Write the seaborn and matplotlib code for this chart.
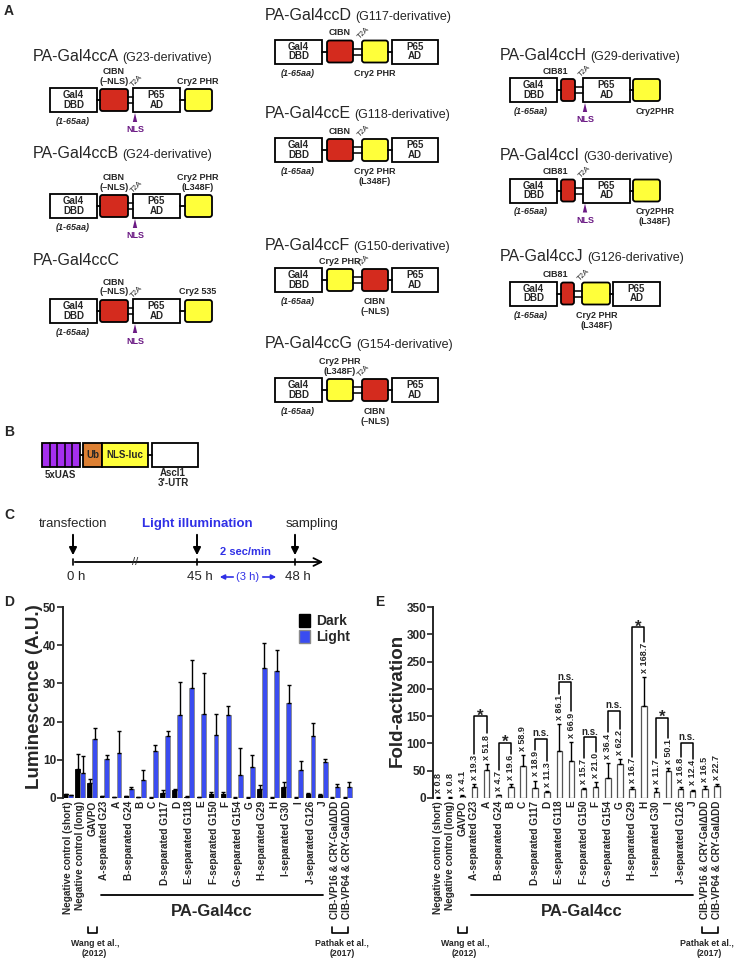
import numpy as np
import pandas as pd
import matplotlib
matplotlib.use('Agg')
import matplotlib.pyplot as plt
import matplotlib.patches as mpatches
import matplotlib.transforms as mtransforms
import seaborn as sns

# ---- data ----
constructs = ['Negative control (short)', 'Negative control (long)', 'GAVPO',
              'A-separated G23', 'A', 'B-separated G24', 'B', 'C',
              'D-separated G117', 'D', 'E-separated G118', 'E',
              'F-separated G150', 'F', 'G-separated G154', 'G',
              'H-separated G29', 'H', 'I-separated G30', 'I',
              'J-separated G126', 'J',
              'CIB-VP16 & CRY-GalΔDD', 'CIB-VP64 & CRY-GalΔDD']
dark_mean = [1.0, 7.6, 3.9, 0.4, 0.2, 0.4, 0.2, 0.1, 1.3, 2.0, 0.3, 0.2,
             1.1, 1.1, 0.1, 0.1, 2.3, 0.1, 2.9, 0.1, 1.0, 0.8, 0.1, 0.1]
dark_err = [0.1, 4.0, 1.1, 0.1, 0.1, 0.1, 0.1, 0.05, 0.7, 0.3, 0.1, 0.1,
            0.4, 0.4, 0.05, 0.05, 1.2, 0.05, 1.4, 0.05, 0.3, 0.2, 0.05, 0.05]
light_mean = [0.8, 6.6, 15.4, 10.2, 11.8, 2.4, 4.6, 12.3, 16.1, 21.8, 28.7, 22.1,
              16.4, 21.6, 6.1, 8.2, 34.0, 33.3, 25.0, 7.3, 16.2, 9.3, 3.0, 2.9]
light_err = [0.1, 4.4, 2.8, 1.0, 5.7, 0.4, 2.8, 1.6, 1.4, 8.5, 7.5, 10.5,
             5.6, 2.5, 7.0, 3.0, 6.5, 5.5, 4.7, 2.5, 3.5, 0.9, 0.6, 1.3]
fold = [0.8, 0.8, 4.1, 19.3, 51.8, 4.7, 19.6, 58.9, 18.9, 11.3, 86.1, 66.9,
        15.7, 21.0, 36.4, 62.2, 16.7, 168.7, 11.7, 50.1, 16.8, 12.4, 16.5, 22.7]
fold_err = [0.5, 0.5, 1.5, 6, 11, 1, 6, 19, 13, 2, 49, 36,
            3, 8, 28, 9, 3, 53, 6, 5, 3, 3, 5, 3]
sig_pairs = [(3, 4), (5, 6), (8, 9), (10, 11), (12, 13), (14, 15), (16, 17), (18, 19), (20, 21)]
sig_y = [150, 101, 108, 212, 111, 160, 313, 147, 101]
sig_marks = ['*', '*', 'n.s.', 'n.s.', 'n.s.', 'n.s.', '*', '*', 'n.s.']

BLUE = '#3a4cf0'
RED = '#d42b1e'
YELLOW = '#ffff3a'
NLS_PURPLE = '#6b1a84'
TXT_BLUE = '#3030e6'

sns.set_style('ticks')
plt.rcParams['font.family'] = ['Liberation Sans', 'DejaVu Sans']

fig = plt.figure(figsize=(7.36, 9.6), dpi=100)
# overlay in pixel units for the schematic panels
ov = fig.add_axes([0, 0, 1, 1])
ov.set_xlim(0, 736)
ov.set_ylim(960, 0)
ov.axis('off')

LW = 1.3


def white_box(x0, x1, yc, text):
    ov.add_patch(mpatches.Rectangle((x0, yc - 12), x1 - x0, 24, fc='white', ec='black', lw=LW))
    ov.text((x0 + x1) / 2, yc, text, ha='center', va='center', fontsize=7,
            fontweight='bold', linespacing=0.95)


def color_box(x0, x1, yc, fc):
    ov.add_patch(mpatches.FancyBboxPatch((x0 + 2.5, yc - 8.5), x1 - x0 - 5, 17,
                                         boxstyle='round,pad=2.5', fc=fc, ec='black', lw=LW))


def link(x0, x1, yc):
    ov.plot([x0, x1], [yc, yc], color='black', lw=LW)


def t2a(x0, x1, yc):
    ov.plot([x0, x1], [yc - 3, yc - 3], color='black', lw=1.1)
    ov.plot([x0, x1], [yc + 3, yc + 3], color='black', lw=1.1)
    ov.text((x0 + x1) / 2 + 6, yc - 19, 'T2A', rotation=45, ha='center', va='center', fontsize=5.5)


def nls(x, yc):
    b = yc + 12
    ov.add_patch(mpatches.Polygon([(x - 2.2, b + 10), (x + 2.2, b + 10), (x, b + 1)],
                                  fc=NLS_PURPLE, ec='none'))
    ov.text(x, b + 18, 'NLS', ha='center', va='center', fontsize=6.5,
            fontweight='bold', color=NLS_PURPLE)


def above(x, yc, lines):
    for k, s in enumerate(reversed(lines)):
        ov.text(x, yc - 12 - 7 - 9.5 * k, s, ha='center', va='center', fontsize=6.5, fontweight='bold')


def below(x, yc, lines, style='normal'):
    for k, s in enumerate(lines):
        ov.text(x, yc + 12 + 9.5 + 10 * k, s, ha='center', va='center', fontsize=6.5,
                fontweight='bold', style=style)


def title(x, y, main, sub=None):
    t = ov.text(x, y, main, fontsize=11.5, ha='left', va='baseline')
    if sub:
        ov.annotate(sub, xy=(1, 0), xycoords=t, xytext=(2.5, 0), textcoords='offset points',
                    fontsize=9, ha='left', va='bottom')


# ---- panel A, left column ----
for yt, yc, name, sub, yel in [(61, 100, 'PA-Gal4ccA', '(G23-derivative)', ['Cry2 PHR']),
                               (158, 206, 'PA-Gal4ccB', '(G24-derivative)', ['Cry2 PHR', '(L348F)']),
                               (265, 311, 'PA-Gal4ccC', None, ['Cry2 535'])]:
    title(33, yt, name, sub)
    white_box(50, 97, yc, 'Gal4\nDBD')
    link(97, 100, yc)
    color_box(100, 128, yc, RED)
    t2a(128, 133, yc)
    white_box(133, 180, yc, 'P65\nAD')
    link(180, 185, yc)
    color_box(185, 212, yc, YELLOW)
    above(114, yc, ['CIBN', '(–NLS)'])
    above(198, yc, yel)
    below(73, yc, ['(1-65aa)'], style='italic')
    nls(135, yc)

# ---- panel A, middle column ----
for yt, yc, name, sub, order in [(20, 51.5, 'PA-Gal4ccD', '(G117-derivative)', 'D'),
                                 (118, 150, 'PA-Gal4ccE', '(G118-derivative)', 'E'),
                                 (250, 280, 'PA-Gal4ccF', '(G150-derivative)', 'F'),
                                 (348, 390, 'PA-Gal4ccG', '(G154-derivative)', 'G')]:
    title(265, yt, name, sub)
    white_box(275, 322, yc, 'Gal4\nDBD')
    link(322, 327, yc)
    first, second = (RED, YELLOW) if order in 'DE' else (YELLOW, RED)
    color_box(327, 353, yc, first)
    t2a(353, 362, yc)
    color_box(362, 388, yc, second)
    link(388, 392, yc)
    white_box(392, 438, yc, 'P65\nAD')
    below(298, yc, ['(1-65aa)'], style='italic')
    if order == 'D':
        above(340, yc, ['CIBN'])
        below(375, yc, ['Cry2 PHR'])
    elif order == 'E':
        above(340, yc, ['CIBN'])
        below(375, yc, ['Cry2 PHR', '(L348F)'])
    elif order == 'F':
        above(340, yc, ['Cry2 PHR'])
        below(375, yc, ['CIBN', '(–NLS)'])
    else:
        above(340, yc, ['Cry2 PHR', '(L348F)'])
        below(375, yc, ['CIBN', '(–NLS)'])

# ---- panel A, right column ----
for yt, yc, name, sub, yel in [(60, 90, 'PA-Gal4ccH', '(G29-derivative)', ['Cry2PHR']),
                               (160, 190.5, 'PA-Gal4ccI', '(G30-derivative)', ['Cry2PHR', '(L348F)'])]:
    title(500, yt, name, sub)
    white_box(510, 557, yc, 'Gal4\nDBD')
    link(557, 561, yc)
    color_box(561, 575, yc, RED)
    t2a(575, 583, yc)
    white_box(583, 630, yc, 'P65\nAD')
    link(630, 633, yc)
    color_box(633, 660, yc, YELLOW)
    above(555, yc, ['CIB81'])
    below(531, yc, ['(1-65aa)'], style='italic')
    below(655, yc, yel)
    nls(585, yc)

title(500, 261, 'PA-Gal4ccJ', '(G126-derivative)')
yc = 293.5
white_box(510, 557, yc, 'Gal4\nDBD')
link(557, 561, yc)
color_box(561, 574, yc, RED)
t2a(574, 582, yc)
color_box(582, 610, yc, YELLOW)
link(610, 613, yc)
white_box(613, 660, yc, 'P65\nAD')
above(555, yc, ['CIB81'])
below(531, yc, ['(1-65aa)'], style='italic')
below(597, yc, ['Cry2 PHR', '(L348F)'])

# ---- panel B ----
ov.add_patch(mpatches.Rectangle((42, 443), 38, 24, fc='#a52ff0', ec='black', lw=LW))
for k in range(1, 5):
    ov.plot([42 + k * 7.6] * 2, [443, 467], color='black', lw=1.1)
link(80, 83, 455)
ov.add_patch(mpatches.Rectangle((83, 443), 19, 24, fc='#dd8033', ec='black', lw=LW))
ov.add_patch(mpatches.Rectangle((102, 443), 46, 24, fc=YELLOW, ec='black', lw=LW))
ov.text(92.5, 455, 'Ub', ha='center', va='center', fontsize=7, fontweight='bold')
ov.text(125, 455, 'NLS-luc', ha='center', va='center', fontsize=7, fontweight='bold')
link(148, 152, 455)
ov.add_patch(mpatches.Rectangle((152, 443), 46, 24, fc='white', ec='black', lw=LW))
ov.text(60, 475, '5xUAS', ha='center', va='center', fontsize=7, fontweight='bold')
ov.text(173, 473, 'Ascl1', ha='center', va='center', fontsize=7, fontweight='bold')
ov.text(173, 483, "3'-UTR", ha='center', va='center', fontsize=7, fontweight='bold')

# ---- panel C: timeline ----
ov.annotate('', xy=(326, 562), xytext=(72, 562),
            arrowprops=dict(arrowstyle='->', color='black', lw=1.3, mutation_scale=14))
for xt, lab in [(73, '0 h'), (197, '45 h'), (295, '48 h')]:
    ov.plot([xt, xt], [559, 565], color='black', lw=1.2)
    ov.annotate('', xy=(xt, 558), xytext=(xt, 532),
                arrowprops=dict(arrowstyle='-|>', color='black', lw=1.4, mutation_scale=11))
    ov.text(xt + 3, 577, lab, ha='center', va='center', fontsize=9.5)
ov.text(135, 562, '//', ha='center', va='center', fontsize=8)
ov.text(73, 524, 'transfection', ha='center', va='center', fontsize=9.5)
ov.text(197, 524, 'Light illumination', ha='center', va='center', fontsize=9.5,
        fontweight='bold', color=TXT_BLUE)
ov.text(312, 524, 'sampling', ha='center', va='center', fontsize=9.5)
ov.text(246, 552, '2 sec/min', ha='center', va='center', fontsize=8, fontweight='bold', color=TXT_BLUE)
ov.text(248, 577, '(3 h)', ha='center', va='center', fontsize=8, color=TXT_BLUE)
ov.annotate('', xy=(217, 577), xytext=(236, 577),
            arrowprops=dict(arrowstyle='-|>', color=TXT_BLUE, lw=1.2, mutation_scale=7))
ov.annotate('', xy=(279, 577), xytext=(260, 577),
            arrowprops=dict(arrowstyle='-|>', color=TXT_BLUE, lw=1.2, mutation_scale=7))

# panel letters
for lx, ly, s in [(4, 11, 'A'), (4, 432, 'B'), (4, 515, 'C'), (4, 602, 'D'), (375, 602, 'E')]:
    ov.text(lx, ly, s, ha='left', va='center', fontsize=10, fontweight='bold')

# ---- panel D ----
axD = fig.add_axes([63 / 736, 1 - 798 / 960, 290 / 736, 191 / 960])
df_d = pd.DataFrame({
    'construct': constructs * 2,
    'condition': ['Dark'] * len(constructs) + ['Light'] * len(constructs),
    'value': dark_mean + light_mean,
})
sns.barplot(data=df_d, x='construct', y='value', hue='condition', order=constructs,
            hue_order=['Dark', 'Light'], palette={'Dark': 'black', 'Light': BLUE},
            saturation=1, errorbar=None, width=0.8, edgecolor='black', linewidth=0.6,
            legend=False, ax=axD)
for p in axD.containers[1]:
    p.set_edgecolor('#8a8a8a')
for cont, err in zip(axD.containers, [dark_err, light_err]):
    xs = [p.get_x() + p.get_width() / 2 for p in cont]
    ys = [p.get_height() for p in cont]
    axD.errorbar(xs, ys, yerr=[np.zeros(len(err)), err], fmt='none', ecolor='black',
                 elinewidth=1.0, capsize=1.5, capthick=1.0)
axD.set_ylim(0, 50)
axD.set_yticks(range(0, 51, 10))
axD.set_ylabel('Luminescence (A.U.)', fontsize=13.5, fontweight='bold')
axD.yaxis.set_label_coords(-0.07, 0.53)
handles = [mpatches.Patch(fc='black', ec='black'), mpatches.Patch(fc=BLUE, ec='#8a8a8a')]
axD.legend(handles, ['Dark', 'Light'], loc='upper left', bbox_to_anchor=(0.79, 1.0),
           frameon=False, prop={'size': 10, 'weight': 'bold'}, handlelength=0.8,
           handleheight=1.1, handletextpad=0.4, labelspacing=0.1, borderpad=0)

# ---- panel E ----
axE = fig.add_axes([433 / 736, 1 - 798 / 960, 290 / 736, 191 / 960])
df_e = pd.DataFrame({'construct': constructs, 'fold': fold})
sns.barplot(data=df_e, x='construct', y='fold', order=constructs, color='white',
            saturation=1, errorbar=None, width=0.45, edgecolor='#555555', linewidth=0.9, ax=axE)
centers = [p.get_x() + p.get_width() / 2 for p in axE.containers[0]]
heights = [p.get_height() for p in axE.containers[0]]
axE.errorbar(centers, heights, yerr=[np.zeros(len(fold_err)), fold_err], fmt='none',
             ecolor='black', elinewidth=1.0, capsize=1.5, capthick=1.0)
axE.set_ylim(0, 350)
axE.set_yticks(range(0, 351, 50))
axE.set_ylabel('Fold-activation', fontsize=13.5, fontweight='bold')
axE.yaxis.set_label_coords(-0.095, 0.51)
fold_texts = []
for xc, v, e in zip(centers, fold, fold_err):
    fold_texts.append(axE.annotate(f'x {v}', xy=(xc, v + e), xytext=(0, 3),
                                   textcoords='offset points', rotation=90, ha='center',
                                   va='bottom', fontsize=6.5, fontweight='bold'))

for ax, ref_x in ((axD, None), (axE, 734)):
    ax.set_xlim(-0.42, 23.5)
    ax.set_xlabel('')
    ax.set_xticks(range(len(constructs)))
    ax.set_xticklabels(constructs, rotation=90, fontsize=7.2, fontweight='bold')
    ax.tick_params(axis='x', length=0, pad=2)
    ax.tick_params(axis='y', length=4, width=1.2, labelsize=8.5, pad=1)
    for lab in ax.get_yticklabels():
        lab.set_fontweight('bold')
    for s in ('top', 'right', 'bottom'):
        ax.spines[s].set_visible(False)
    ax.spines['left'].set_linewidth(1.4)
    ax.set_facecolor('none')

    # group line, references
    tr = mtransforms.blended_transform_factory(ax.transData, ov.transData)
    a0 = constructs.index('A-separated G23') - 0.3
    a1 = constructs.index('J')
    ov.plot([a0, a1], [895, 895], transform=tr, color='black', lw=1.3)
    ov.text((a0 + a1) / 2, 911, 'PA-Gal4cc', transform=tr, ha='center', va='center',
            fontsize=12, fontweight='bold')
    g = constructs.index('GAVPO')
    ov.plot([g - 0.35, g - 0.35, g + 0.35, g + 0.35], [927, 933, 933, 927], transform=tr,
            color='black', lw=1.2)
    ov.text(g + 0.2, 943, 'Wang et al.,', transform=tr, ha='center', va='center',
            fontsize=6.3, fontweight='bold')
    ov.text(g + 0.2, 953, '(2012)', transform=tr, ha='center', va='center',
            fontsize=6.3, fontweight='bold')
    c0 = constructs.index('CIB-VP16 & CRY-GalΔDD')
    c1 = constructs.index('CIB-VP64 & CRY-GalΔDD')
    ov.plot([c0 - 0.25, c0 - 0.25, c1 + 0.1, c1 + 0.1], [927, 933, 933, 927], transform=tr,
            color='black', lw=1.2)
    if ref_x is None:
        for yy, s in [(943, 'Pathak et al.,'), (953, '(2017)')]:
            ov.text(c0 + 0.6, yy, s, transform=tr, ha='center', va='center',
                    fontsize=6.3, fontweight='bold')
    else:
        # keep the reference inside the right edge of the figure
        ov.text(ref_x, 943, 'Pathak et al.,', ha='right', va='center',
                fontsize=6.3, fontweight='bold')
        ov.text(ref_x - 12, 953, '(2017)', ha='right', va='center',
                fontsize=6.3, fontweight='bold')

# significance brackets reach down to the fold labels
fig.canvas.draw()
renderer = fig.canvas.get_renderer()
inv = axE.transData.inverted()
tops = [inv.transform((0, t.get_window_extent(renderer).y1))[1] for t in fold_texts]
for (i, j), y, mark in zip(sig_pairs, sig_y, sig_marks):
    xi, xj = centers[i], centers[j]
    axE.plot([xi, xi, xj, xj], [tops[i] + 2, y, y, tops[j] + 2], color='black', lw=1.1)
    if mark == '*':
        axE.annotate(mark, xy=((xi + xj) / 2, y), xytext=(0, -3), textcoords='offset points',
                     ha='center', va='baseline', fontsize=12, fontweight='bold')
    else:
        axE.annotate(mark, xy=((xi + xj) / 2, y), xytext=(0, 0.5), textcoords='offset points',
                     ha='center', va='bottom', fontsize=7, fontweight='bold')

fig.savefig('out.png', dpi=100)
